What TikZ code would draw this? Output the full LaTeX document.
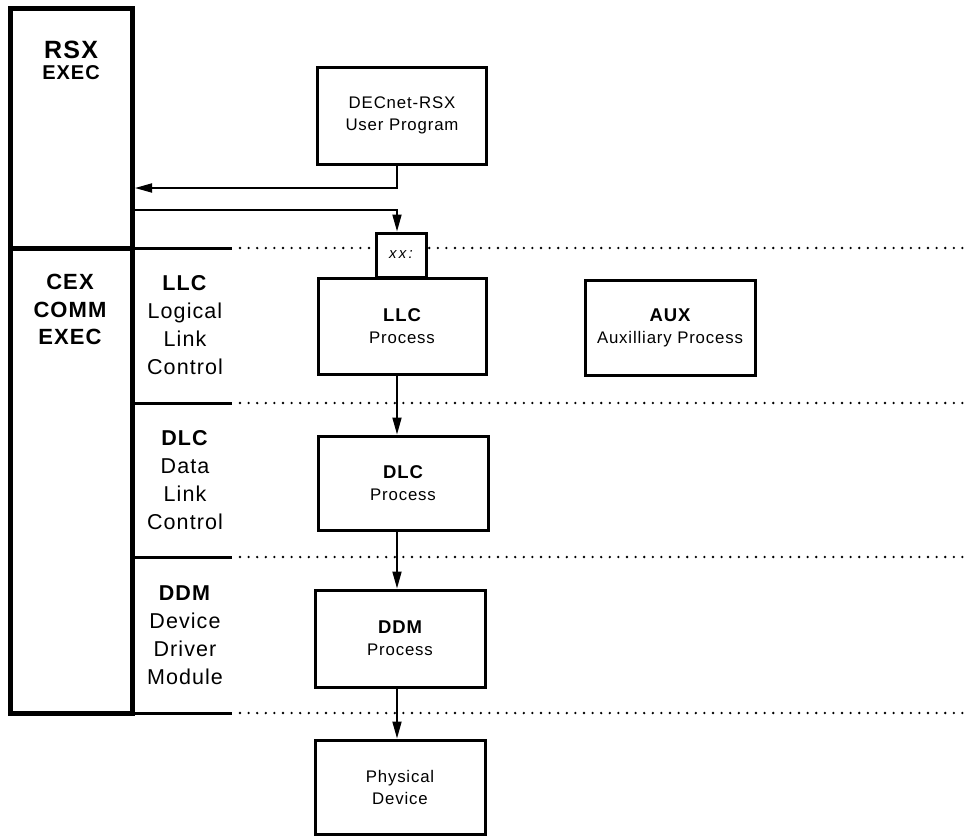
\documentclass[tikz,border=0pt]{standalone}
\usepackage{fontspec}
\setmainfont[LetterSpace=5]{Liberation Sans}
\usetikzlibrary{arrows.meta}
\newcommand{\boxhead}[1]{{\bfseries\fontsize{18.5}{22}\selectfont #1}}
\begin{document}
\begin{tikzpicture}[x=1pt,y=-1pt,
  thickline/.style={line width=5pt},
  colbox/.style={draw,thickline,outer sep=0pt,inner sep=0pt,minimum width=122pt,anchor=north west},
  box/.style={draw,line width=3pt,minimum width=168pt,minimum height=96pt,inner sep=0pt,align=center,font=\fontsize{16.8}{22}\selectfont,fill=white},
  layer/.style={align=center,font=\fontsize{21.5}{28}\selectfont},
  exec/.style={font=\bfseries\fontsize{22}{22}\selectfont,inner sep=0pt},
  solidseg/.style={line width=3pt},
  dotline/.style={line width=2.6pt,dash pattern=on 0pt off 8.6pt,line cap=round},
  arr/.style={line width=1.8pt,-{Triangle[length=17pt,width=9pt]}},
]
\useasboundingbox (0,0) rectangle (965,838);

% left column boxes
\node[colbox,minimum height=240pt] (rsx) at (10,8) {};
\node[colbox,minimum height=465pt] (cex) at (10,248) {};

\node[font=\bfseries\fontsize{25}{25}\selectfont,inner sep=0pt] (rsxt) at (71,50) {RSX};
\node[font=\bfseries\fontsize{20}{20}\selectfont,inner sep=0pt] (rsxe) at (71,73) {EXEC};
\node[exec] (cext) at (70,282) {CEX};
\node[exec] (cexc) at (70,310) {COMM};
\node[exec] (cexe) at (70,337) {EXEC};

% layer separators
\foreach \n/\yy in {a/248,b/403,c/557,d/713}{
  \coordinate (s\n) at (132,\yy);
  \coordinate (m\n) at (232,\yy);
  \coordinate (t\n) at (240,\yy);
  \coordinate (e\n) at (964,\yy);
  \draw[solidseg] (s\n) -- (m\n);
  \draw[dotline] (t\n) -- (e\n);
}

% layer labels
\node[layer] (llcl) at (185,325) {\textbf{LLC}\\Logical\\Link\\Control};
\node[layer] (dlcl) at (185,480) {\textbf{DLC}\\Data\\Link\\Control};
\node[layer] (ddml) at (185,635) {\textbf{DDM}\\Device\\Driver\\Module};

% process boxes
\node[box,minimum width=169pt,minimum height=97pt] (dec) at (402,115.5) {DECnet-RSX\\User Program};
\node[box] (llc) at (402,326) {\boxhead{LLC}\\Process};
\node[box,minimum width=50pt,minimum height=44pt,font=\itshape\fontsize{15}{15}\selectfont\addfontfeatures{LetterSpace=15}] (xx) at (401,255) {xx:};
\node[box,minimum width=170pt,minimum height=94pt] (dlc) at (403,483) {\boxhead{DLC}\\Process};
\node[box,minimum width=170pt,minimum height=97pt] (ddm) at (400,638.5) {\boxhead{DDM}\\Process};
\node[box,minimum width=170pt,minimum height=94pt] (phys) at (400,787) {Physical\\Device};
\node[box,minimum width=170pt,minimum height=95pt] (aux) at (670,327.5) {\boxhead{AUX}\\Auxilliary Process};

% connectors
\coordinate (ax) at (397,0);
\coordinate (ya) at (0,188);
\coordinate (yb) at (0,210);
\draw[arr,shorten >=3pt] (dec.south -| ax) |- (rsx.east |- ya);
\draw[arr] (rsx.east |- yb) -| (xx.north -| ax);
\draw[arr] (llc.south -| ax) -- (dlc.north -| ax);
\draw[arr] (dlc.south -| ax) -- (ddm.north -| ax);
\draw[arr] (ddm.south -| ax) -- (phys.north -| ax);
\end{tikzpicture}
\end{document}
